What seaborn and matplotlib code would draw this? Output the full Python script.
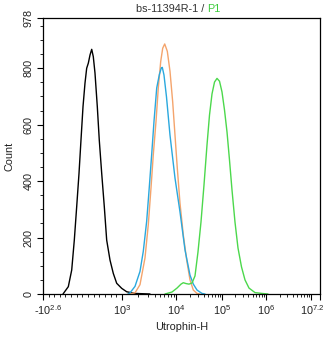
import numpy as np
import pandas as pd
import matplotlib
matplotlib.use("Agg")
import matplotlib.pyplot as plt
from matplotlib.transforms import ScaledTranslation
import seaborn as sns

# Histogram traces (Utrophin-H intensity, event count)
black_x = [-44, 50, 110, 156, 198, 239, 274, 310, 345, 375, 404, 434, 464, 492,
           522, 563, 598, 641, 687, 729, 788, 846, 906, 995, 1220, 1740, 3300]
black_y = [0, 26, 85, 191, 309, 427, 545, 664, 747, 800, 818, 847, 867, 841,
           783, 664, 545, 427, 309, 191, 120, 73, 38, 20, 8, 2, 0]

orange_x = [1291, 1741, 2154, 2667, 3070, 3445, 3800, 4266, 4700, 5210, 5675, 6180,
            6905, 7743, 8690, 9580, 10670, 12210, 14420, 17090, 20150, 23780, 28640, 33280]
orange_y = [0, 4, 33, 128, 246, 376, 494, 612, 730, 824, 871, 886,
            860, 789, 680, 563, 446, 322, 209, 120, 50, 14, 2, 0]

blue_x = [1291, 1406, 1741, 2154, 2478, 2865, 3195, 3545, 3915, 4395, 4910, 5345, 5575,
          5990, 6670, 7743, 9580, 12210, 15700, 20150, 23780, 28640, 36740, 42700]
blue_y = [0, 4, 27, 80, 151, 258, 376, 494, 612, 730, 777, 801, 803,
          776, 698, 563, 411, 291, 156, 67, 35, 14, 2, 0]

green_x = [6250, 8430, 10520, 12850, 14420, 16500, 19170, 22290, 25880, 30060, 34930,
           40600, 47200, 53500, 60650, 68750, 77900, 88300, 100000, 114000, 130000,
           148000, 168700, 197300, 231000, 277500, 333000, 411000, 562000, 811000, 1107000]
green_y = [0, 7, 21, 35, 40, 37, 35, 39, 64, 149, 255,
           386, 528, 634, 709, 751, 764, 754, 716, 652, 574,
           475, 369, 255, 163, 96, 50, 21, 5, 2, 0]

series_names = ["isotype", "sample A", "sample B", "P1"]
series_colors = ["#000000", "#F4A46C", "#2AA8DE", "#4CD84C"]

y_ticks = [0, 200, 400, 600, 800, 978]
y_max = 978
x_min, x_max = -10 ** 2.6, 10 ** 7.2
x_major = [x_min, 1e3, 1e4, 1e5, 1e6, 1e7, x_max]
x_major_labels = ["-$10^{2.6}$", "$10^{3}$", "$10^{4}$", "$10^{5}$", "$10^{6}$", "", "$10^{7.2}$"]

frames = []
for name, xs, ys in zip(series_names, [black_x, orange_x, blue_x, green_x],
                        [black_y, orange_y, blue_y, green_y]):
    frames.append(pd.DataFrame({"Utrophin-H": xs, "Count": ys, "tube": name}))
df = pd.concat(frames, ignore_index=True)

# Biexponential-style axis: linear near zero, logarithmic above 10^3
LIN_OFF, LIN_SLOPE = 65.5, 0.0565
LOG_KNOTS = [3.0, 4.0, 5.0, 6.0, 7.0, 7.2, 9.0]
POS_KNOTS = [122.0, 176.0, 222.0, 266.0, 311.0, 320.0, 401.0]


def fwd(v):
    v = np.asarray(v, dtype=float)
    lin = LIN_OFF + LIN_SLOPE * v
    lg = np.interp(np.log10(np.clip(v, 1e3, None)), LOG_KNOTS, POS_KNOTS)
    return np.where(v <= 1e3, lin, lg)


def inv(p):
    p = np.asarray(p, dtype=float)
    lin = (p - LIN_OFF) / LIN_SLOPE
    lg = 10 ** np.interp(np.clip(p, 122.0, None), POS_KNOTS, LOG_KNOTS)
    return np.where(p <= 122.0, lin, lg)


sns.set_style("ticks")
plt.rcParams["font.family"] = ["Liberation Sans", "DejaVu Sans"]
plt.rcParams["mathtext.fontset"] = "custom"
plt.rcParams["mathtext.rm"] = "Liberation Sans"
plt.rcParams["mathtext.it"] = "Liberation Sans"
plt.rcParams["mathtext.default"] = "regular"

fig = plt.figure(figsize=(3.34, 3.37), dpi=100)
ax = fig.add_axes([43 / 334, 1 - 294 / 337, 277 / 334, 276 / 337])
ax.set_xscale("function", functions=(fwd, inv))

sns.lineplot(data=df, x="Utrophin-H", y="Count", hue="tube",
             estimator=None, sort=False, palette=dict(zip(series_names, series_colors)),
             legend=False, linewidth=1.0, ax=ax)

ax.set_xlim(x_min, x_max)
ax.set_ylim(0, y_max)

ax.set_xticks(x_major)
ax.set_xticklabels(x_major_labels)
minor_x = [-300, -200, -100, 0, 100, 200, 300, 400, 500, 600, 700, 800, 900]
for d in range(3, 7):
    minor_x += [k * 10 ** d for k in range(2, 10)]
ax.set_xticks(minor_x, minor=True)

ax.set_yticks(y_ticks)
ax.set_yticklabels([str(t) for t in y_ticks])
ax.set_yticks([t for t in range(50, 978, 50) if t not in y_ticks], minor=True)

tick_color = "#222222"
ax.tick_params(axis="both", which="major", direction="out", length=4.5, width=0.8,
               colors="black", labelcolor=tick_color, labelsize=7.8, pad=2)
ax.tick_params(axis="both", which="minor", direction="out", length=2.5, width=0.6,
               colors="black")
for lab in ax.get_yticklabels():
    lab.set_rotation(90)
    lab.set_va("center")

# Nudge the end labels inward like the instrument export
xl = ax.get_xticklabels()
xl[0].set_transform(xl[0].get_transform() + ScaledTranslation(5 / 100, 0, fig.dpi_scale_trans))
xl[-1].set_transform(xl[-1].get_transform() + ScaledTranslation(-8 / 100, 0, fig.dpi_scale_trans))

for s in ax.spines.values():
    s.set_visible(True)
    s.set_linewidth(0.9)
    s.set_color("black")

ax.set_xlabel("Utrophin-H", fontsize=7.8, color=tick_color, labelpad=4)
ax.set_ylabel("Count", fontsize=7.8, color=tick_color, labelpad=7)

fig.text(207 / 334, 1 - 9 / 337, "bs-11394R-1 / ", ha="right", va="center",
         fontsize=7.8, color="#333333")
fig.text(207 / 334, 1 - 9 / 337, "P1", ha="left", va="center", fontsize=7.8,
         color="#3CCB3C")

fig.savefig("out.png", dpi=100)
